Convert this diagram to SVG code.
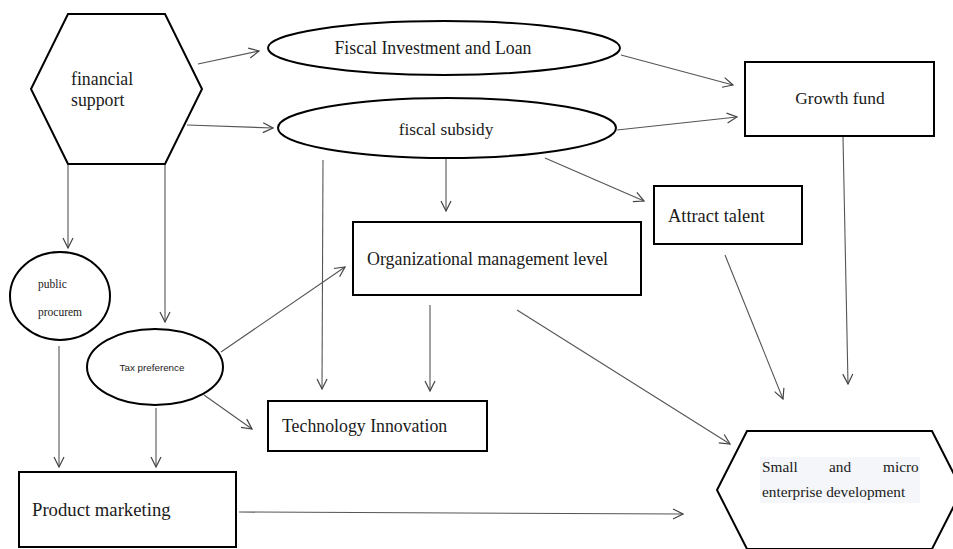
<svg xmlns="http://www.w3.org/2000/svg" width="953" height="549" viewBox="0 0 953 549">
<defs>
<marker id="arr" viewBox="0 0 12 12" refX="11" refY="6" markerWidth="12" markerHeight="12" markerUnits="userSpaceOnUse" orient="auto">
<path d="M1,1 L11,6 L1,11" fill="none" stroke="#444" stroke-width="1.2"/>
</marker>
<style>
.n{fill:#fff;stroke:#000;stroke-width:2}
.c{fill:none;stroke:#555;stroke-width:1.1;marker-end:url(#arr)}
.t{font-family:"Liberation Serif","Times New Roman",serif;fill:#1a1a1a}
</style>
</defs>
<rect width="953" height="549" fill="#fff"/>
<g id="connectors">
<line class="c" x1="198" y1="64" x2="259" y2="51"/>
<line class="c" x1="187" y1="125" x2="273" y2="128"/>
<line class="c" x1="68" y1="165" x2="68" y2="248"/>
<line class="c" x1="165" y1="165" x2="165" y2="322"/>
<line class="c" x1="621" y1="55" x2="733" y2="85"/>
<line class="c" x1="617" y1="130" x2="737" y2="117"/>
<line class="c" x1="446" y1="158" x2="446" y2="211"/>
<line class="c" x1="545" y1="158" x2="644" y2="201"/>
<line class="c" x1="323" y1="160" x2="322" y2="389"/>
<line class="c" x1="221" y1="352" x2="345" y2="267"/>
<line class="c" x1="430" y1="305" x2="430" y2="391"/>
<line class="c" x1="204" y1="395" x2="252" y2="429"/>
<line class="c" x1="517" y1="310" x2="730" y2="444"/>
<line class="c" x1="725" y1="255" x2="783" y2="399"/>
<line class="c" x1="843" y1="137" x2="848" y2="384"/>
<line class="c" x1="59" y1="346" x2="59" y2="467"/>
<line class="c" x1="156" y1="408" x2="156" y2="467"/>
<line class="c" x1="239" y1="512" x2="683" y2="514"/>
</g>
<g id="financial-support">
<polygon class="n" points="68,14 165,14 202,89 165,164 68,164 31,89"/>
<text class="t" x="71" y="85" font-size="17.8">financial</text>
<text class="t" x="71" y="106" font-size="17.8">support</text>
</g>
<g id="fiscal-investment">
<ellipse class="n" cx="444" cy="48" rx="176" ry="27"/>
<text class="t" x="433" y="54" font-size="17.8" text-anchor="middle" fill="#333">Fiscal Investment and Loan</text>
</g>
<g id="fiscal-subsidy">
<ellipse class="n" cx="447" cy="128" rx="169" ry="30"/>
<text class="t" x="446" y="135" font-size="17.3" text-anchor="middle">fiscal subsidy</text>
</g>
<g id="growth-fund">
<rect class="n" x="745" y="62" width="189" height="74"/>
<text class="t" x="840" y="104" font-size="17.4" text-anchor="middle">Growth fund</text>
</g>
<g id="attract-talent">
<rect class="n" x="654" y="186" width="148" height="58"/>
<text class="t" x="668" y="222" font-size="18.4">Attract talent</text>
</g>
<g id="org-management">
<rect class="n" x="353" y="222" width="288" height="73"/>
<text class="t" x="367" y="265" font-size="17.9">Organizational management level</text>
</g>
<g id="public-procurement">
<ellipse class="n" cx="60" cy="296" rx="50" ry="44"/>
<text class="t" x="38" y="288" font-size="11.5">public</text>
<text class="t" x="38" y="316" font-size="11.5">procurem</text>
</g>
<g id="tax-preference">
<ellipse class="n" cx="155" cy="367" rx="68" ry="38"/>
<text x="152" y="371" font-size="9.8" text-anchor="middle" font-family="'Liberation Sans',Arial,sans-serif" fill="#1a1a1a">Tax preference</text>
</g>
<g id="technology-innovation">
<rect class="n" x="268" y="401" width="219" height="50"/>
<text class="t" x="282" y="432" font-size="17.8">Technology Innovation</text>
</g>
<g id="product-marketing">
<rect class="n" x="19" y="472" width="217" height="75"/>
<text class="t" x="32" y="516" font-size="18.7">Product marketing</text>
</g>
<g id="small-micro">
<polygon class="n" points="747,431 932,431 962,490 932,549 747,549 717,490"/>
<rect x="760" y="457" width="160" height="46" fill="#f4f6f9"/>
<text class="t" y="472" font-size="15.3"><tspan x="762">Small</tspan><tspan x="829">and</tspan><tspan x="883">micro</tspan></text>
<text class="t" x="762" y="497" font-size="15.3">enterprise development</text>
</g>
</svg>
